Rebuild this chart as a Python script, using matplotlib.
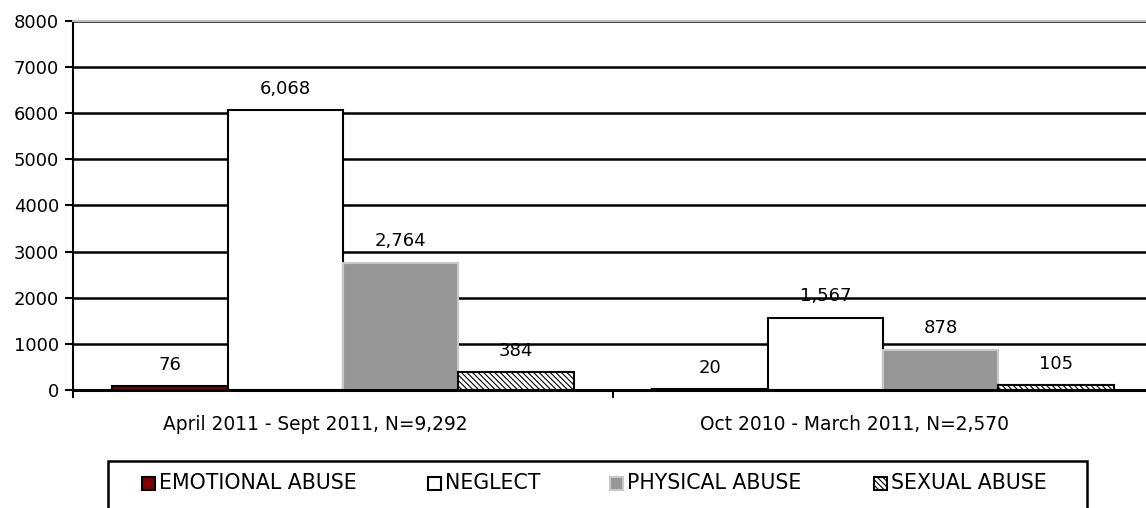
import numpy as np
import matplotlib.pyplot as plt
import matplotlib.transforms as mtransforms
from matplotlib.patches import Rectangle

plt.rcParams['font.family'] = ['DejaVu Sans']
plt.rcParams['hatch.linewidth'] = 0.8

periods = ['April 2011 - Sept 2011, N=9,292', 'Oct 2010 - March 2011, N=2,570']
types = ['EMOTIONAL ABUSE', 'NEGLECT', 'PHYSICAL ABUSE', 'SEXUAL ABUSE']
counts = {
    'EMOTIONAL ABUSE': [76, 20],
    'NEGLECT': [6068, 1567],
    'PHYSICAL ABUSE': [2764, 878],
    'SEXUAL ABUSE': [384, 105],
}
yticks = [0, 1000, 2000, 3000, 4000, 5000, 6000, 7000, 8000]

styles = {
    'EMOTIONAL ABUSE': dict(facecolor='#800000', edgecolor='black', hatch=None),
    'NEGLECT': dict(facecolor='white', edgecolor='black', hatch=None),
    'PHYSICAL ABUSE': dict(facecolor='#969696', edgecolor='#c8c8c8', hatch=None),
    'SEXUAL ABUSE': dict(facecolor='white', edgecolor='black', hatch='\\\\\\\\\\\\'),
}

W, H = 1146, 508
fs = 13
fig = plt.figure(figsize=(W / 100, H / 100), dpi=100)
ax = fig.add_axes([73 / W, 118 / H, 1080 / W, 369 / H])

x = np.arange(len(periods))
w = 0.2135
for i, t in enumerate(types):
    pos = x + (i - 1.5) * w
    bars = ax.bar(pos, counts[t], width=w, linewidth=1.5, zorder=3, **styles[t])
    for b, v in zip(bars, counts[t]):
        ax.annotate(f'{v:,}', (b.get_x() + b.get_width() / 2, v), xytext=(0, 9),
                    textcoords='offset points', ha='center', va='bottom', fontsize=fs)

ax.set_xlim(-0.5, 1.5)
ax.set_ylim(0, 8000)
ax.set_yticks(yticks)
ax.set_yticklabels([str(v) for v in yticks], fontsize=fs)
ax.set_xticks(x)
ax.set_xticklabels(periods, fontsize=13.4)
ax.tick_params(axis='x', which='major', length=0, pad=18)
# Excel puts the category text a little left of the group centre
shift = mtransforms.ScaledTranslation(-28 / 100, 0, fig.dpi_scale_trans)
for lab in ax.get_xticklabels():
    lab.set_transform(lab.get_transform() + shift)
ax.set_xticks([-0.5, 0.5, 1.5], minor=True)
ax.tick_params(axis='x', which='minor', length=6, width=1.5)
ax.tick_params(axis='y', length=6, width=1.5, pad=4)

ax.yaxis.grid(True, color='black', linewidth=1.8, zorder=0)
ax.set_axisbelow(True)
ax.spines['right'].set_visible(False)
ax.spines['top'].set_color('#c0c0c0')
ax.spines['top'].set_linewidth(1.5)
ax.spines['left'].set_linewidth(1.5)
ax.spines['bottom'].set_linewidth(2.2)
ax.spines['bottom'].set_zorder(4)

# legend drawn by hand, Excel style box running off the bottom edge
fig.patches.append(Rectangle((108 / W, -0.05), 979 / W, 0.05 + (H - 461) / H,
                             transform=fig.transFigure, facecolor='none',
                             edgecolor='black', linewidth=1.8))
marker_x = [142, 428, 610, 874]
for mx, t in zip(marker_x, types):
    fig.patches.append(Rectangle((mx / W, (H - 490) / H), 13 / W, 13 / H,
                                 transform=fig.transFigure, linewidth=1.5,
                                 **styles[t]))
    fig.text((mx + 17) / W, (H - 483) / H, t, fontsize=14.8, va='center', ha='left')

fig.savefig('out.png', dpi=100)
